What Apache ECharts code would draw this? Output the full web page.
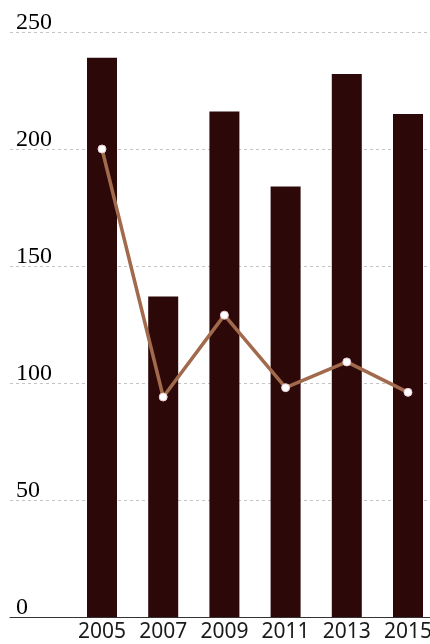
<!DOCTYPE html>
<html>
<head>
<meta charset="utf-8">
<script src="https://cdn.jsdelivr.net/npm/echarts@6/dist/echarts.min.js"></script>
<style>
html,body{margin:0;padding:0;background:#fff;overflow:hidden;width:430px;height:644px;}
#c{width:440px;height:644px;}
</style>
</head>
<body>
<div id="c"></div>
<script>
var years = ['2005','2007','2009','2011','2013','2015'];
var barValues = [239, 137, 216, 184, 232, 215];
var lineValues = [200, 94, 129, 98, 109, 96];
var yTicks = [0, 50, 100, 150, 200, 250];

var chart = echarts.init(document.getElementById('c'), null, {renderer:'canvas'});
var option = {
  animation: false,
  backgroundColor: '#ffffff',
  grid: [
    {left: 10, right: 10, top: 32, bottom: 27},
    {left: 71.4, right: 1.4, top: 32, bottom: 27}
  ],
  xAxis: [
    {gridIndex: 0, type: 'value', min: 0, max: 1,
      axisLine: {show: true, onZero: false, lineStyle: {color: '#333', width: 1.2}},
      axisTick: {show: false}, axisLabel: {show: false}, splitLine: {show: false}},
    {gridIndex: 1, type: 'category', data: years,
      axisLine: {show: false}, axisTick: {show: false},
      axisLabel: {interval: 0, color: '#1a1a1a', fontFamily: 'Noto Sans', fontSize: 21, margin: 5}}
  ],
  yAxis: [
    {gridIndex: 0, type: 'value', min: yTicks[0], max: yTicks[yTicks.length-1], interval: 50,
      axisLine: {show: false}, axisTick: {show: false},
      axisLabel: {inside: true, margin: 6, verticalAlign: 'bottom', color: '#000',
        fontFamily: 'Liberation Serif', fontSize: 24, lineHeight: 18},
      splitLine: {show: true, lineStyle: {color: '#c4c4c4', type: [3, 3], width: 1}}},
    {gridIndex: 1, type: 'value', min: 0, max: 250, show: false, splitLine: {show: false}}
  ],
  series: [
    {type: 'bar', xAxisIndex: 1, yAxisIndex: 1, data: barValues, barWidth: 30,
      itemStyle: {color: '#2c0809'}},
    {type: 'line', xAxisIndex: 1, yAxisIndex: 1, data: lineValues,
      symbol: 'circle', symbolSize: 8,
      lineStyle: {color: '#a26a4c', width: 3.5},
      itemStyle: {color: '#ffffff', borderColor: '#e8c8d0', borderWidth: 1}}
  ]
};
chart.setOption(option);
</script>
</body>
</html>
